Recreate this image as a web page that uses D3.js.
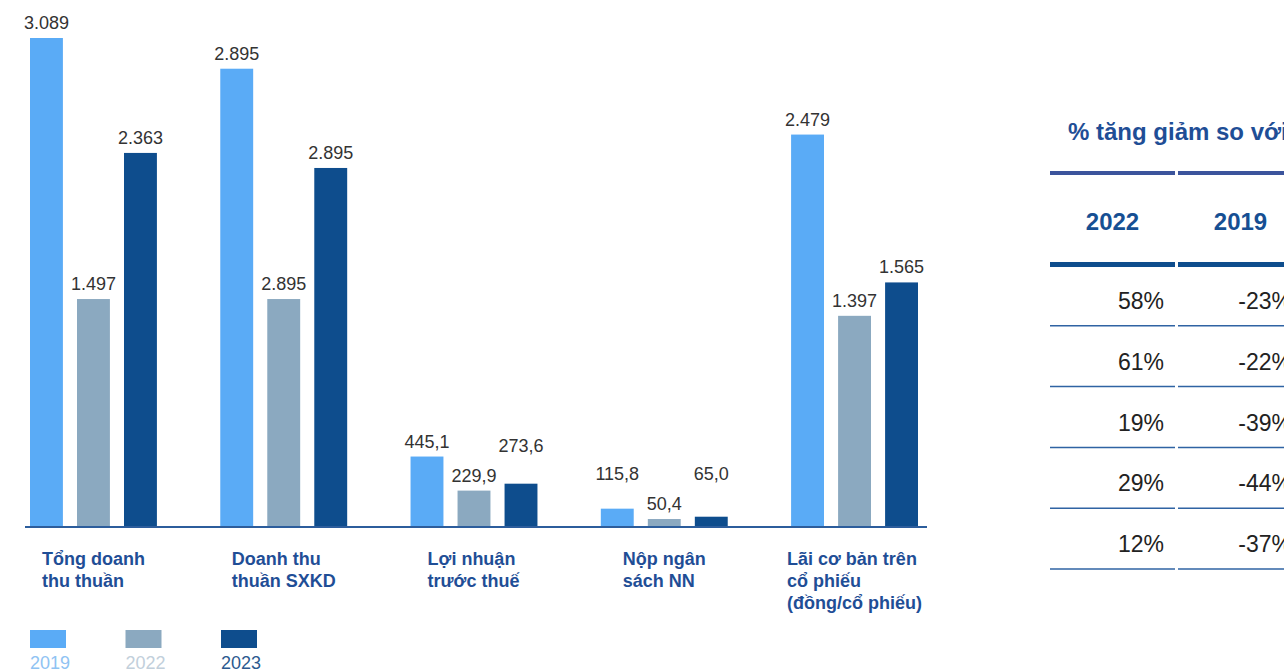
<!DOCTYPE html>
<html>
<head>
<meta charset="utf-8">
<script src="https://cdn.jsdelivr.net/npm/d3@7"></script>
<style>
  body { margin: 0; background: #fff; overflow: hidden; }
  text { font-family: "Liberation Sans", Arial, sans-serif; }
</style>
</head>
<body>
<div id="chart"></div>
<script>
// data
const categories = ["Tổng doanh thu thuần", "Doanh thu thuần SXKD", "Lợi nhuận trước thuế", "Nộp ngân sách NN", "Lãi cơ bản trên cổ phiếu (đồng/cổ phiếu)"];
const categoryLines = [
  ["Tổng doanh", "thu thuần"],
  ["Doanh thu", "thuần SXKD"],
  ["Lợi nhuận", "trước thuế"],
  ["Nộp ngân", "sách NN"],
  ["Lãi cơ bản trên", "cổ phiếu", "(đồng/cổ phiếu)"]
];
const years = ["2019", "2022", "2023"];
// bar heights as drawn in the picture
const values2019 = [3089, 2895, 445.1, 115.8, 2479];
const values2022 = [1440, 1440, 229.9, 50.4, 1334];
const values2023 = [2363, 2268, 273.6, 65.0, 1545];
// labels as printed on the chart
const labels2019 = ["3.089", "2.895", "445,1", "115,8", "2.479"];
const labels2022 = ["1.497", "2.895", "229,9", "50,4", "1.397"];
const labels2023 = ["2.363", "2.895", "273,6", "65,0", "1.565"];
// % change table
const tableTitle = "% tăng giảm so với";
const tableCols = ["2022", "2019"];
const pctVs2022 = ["58%", "61%", "19%", "29%", "12%"];
const pctVs2019 = ["-23%", "-22%", "-39%", "-44%", "-37%"];

const width = 1284, height = 670;
const colors = { "2019": "#5aabf6", "2022": "#8ba9c0", "2023": "#0e4d8d" };
const legendText = { "2019": "#8fc3f3", "2022": "#c2cfdb", "2023": "#2c5a8f" };
const blue = "#1f4e96";

const svg = d3.select("#chart")
  .append("svg")
    .attr("width", width)
    .attr("height", height);

const seriesValues = { "2019": values2019, "2022": values2022, "2023": values2023 };
const seriesLabels = { "2019": labels2019, "2022": labels2022, "2023": labels2023 };

const x0 = d3.scaleBand()
  .domain(categories)
  .range([30, 918])
  .paddingInner(0.333)
  .paddingOuter(0);

const x1 = d3.scaleBand()
  .domain(years)
  .range([0, x0.bandwidth()])
  .paddingInner(0.3);

const y = d3.scaleLinear()
  .domain([0, 3089])
  .range([527, 38]);

const groups = svg.selectAll(".group")
  .data(categories)
  .enter().append("g")
    .attr("class", "group")
    .attr("transform", d => `translate(${x0(d)},0)`);

const groupData = (d, i) => {
  const items = years.map(yr => ({ yr, v: seriesValues[yr][i], label: seriesLabels[yr][i] }));
  items.forEach(it => it.ly = y(it.v) - 9);
  // lift outer labels that would crowd the middle one
  const mid = items[1];
  [items[0], items[2]].forEach(it => {
    if (Math.abs(it.ly - mid.ly) < 25) it.ly = mid.ly - 30;
  });
  return items;
};

groups.selectAll("rect")
  .data(groupData)
  .enter().append("rect")
    .attr("x", d => x1(d.yr))
    .attr("y", d => y(d.v))
    .attr("width", x1.bandwidth())
    .attr("height", d => y(0) - y(d.v))
    .attr("fill", d => colors[d.yr]);

groups.selectAll(".val")
  .data(groupData)
  .enter().append("text")
    .attr("class", "val")
    .attr("x", d => x1(d.yr) + x1.bandwidth() / 2)
    .attr("y", d => d.ly)
    .attr("text-anchor", "middle")
    .attr("font-size", 18)
    .attr("fill", "#333")
    .text(d => d.label);

// baseline
svg.append("line")
  .attr("x1", 25).attr("x2", 927)
  .attr("y1", y(0)).attr("y2", y(0))
  .attr("stroke", "#2c5d9c")
  .attr("stroke-width", 2);

// category labels: left aligned block, centred under the group
groups.each(function (d, i) {
  const g = d3.select(this);
  const t = g.append("text")
    .attr("font-size", 18)
    .attr("font-weight", "bold")
    .attr("fill", blue);
  t.selectAll("tspan")
    .data(categoryLines[i])
    .enter().append("tspan")
      .attr("x", 0)
      .attr("y", (l, j) => 565 + j * 22)
      .text(l => l);
  const w = t.node().getBBox().width;
  t.attr("transform", `translate(${(x0.bandwidth() - w) / 2},0)`);
});

// legend
const lx = d3.scalePoint().domain(years).range([30, 221]);
const legend = svg.selectAll(".legend")
  .data(years)
  .enter().append("g")
    .attr("class", "legend")
    .attr("transform", d => `translate(${lx(d)},630)`);
legend.append("rect")
  .attr("width", 36).attr("height", 18)
  .attr("fill", d => colors[d]);
legend.append("text")
  .attr("y", 39)
  .attr("font-size", 18)
  .attr("fill", d => legendText[d])
  .text(d => d);

// table
const col = d3.scaleBand()
  .domain(tableCols)
  .range([1050, 1303])
  .paddingInner(0.0234);
const row = d3.scaleBand()
  .domain(categories)
  .range([265, 569]);

svg.append("text")
  .attr("x", 1068).attr("y", 140)
  .attr("font-size", 24)
  .attr("font-weight", "bold")
  .attr("fill", "#1f4e96")
  .text(tableTitle);

svg.selectAll(".topline")
  .data(tableCols)
  .enter().append("rect")
    .attr("x", d => col(d))
    .attr("y", 171)
    .attr("width", col.bandwidth())
    .attr("height", 4)
    .attr("fill", "#3b549c");

svg.selectAll(".colhead")
  .data(tableCols)
  .enter().append("text")
    .attr("x", d => col(d) + col.bandwidth() / 2)
    .attr("y", 230)
    .attr("text-anchor", "middle")
    .attr("font-size", 24)
    .attr("font-weight", "bold")
    .attr("fill", "#164f93")
    .text(d => d);

svg.selectAll(".headline")
  .data(tableCols)
  .enter().append("rect")
    .attr("x", d => col(d))
    .attr("y", 262)
    .attr("width", col.bandwidth())
    .attr("height", 5)
    .attr("fill", "#0e4d8d");

const tableVals = { "2022": pctVs2022, "2019": pctVs2019 };
tableCols.forEach(c => {
  svg.selectAll(".cell-" + c)
    .data(categories)
    .enter().append("text")
      .attr("x", col(c) + col.bandwidth() - 11)
      .attr("y", d => row(d) + 44)
      .attr("text-anchor", "end")
      .attr("font-size", 23)
      .attr("fill", "#222")
      .text((d, i) => tableVals[c][i]);
  svg.selectAll(".rule-" + c)
    .data(categories)
    .enter().append("line")
      .attr("x1", col(c))
      .attr("x2", col(c) + col.bandwidth())
      .attr("y1", d => row(d) + row.bandwidth())
      .attr("y2", d => row(d) + row.bandwidth())
      .attr("stroke", "#2f63a3")
      .attr("stroke-width", 1.5);
});
</script>
</body>
</html>
